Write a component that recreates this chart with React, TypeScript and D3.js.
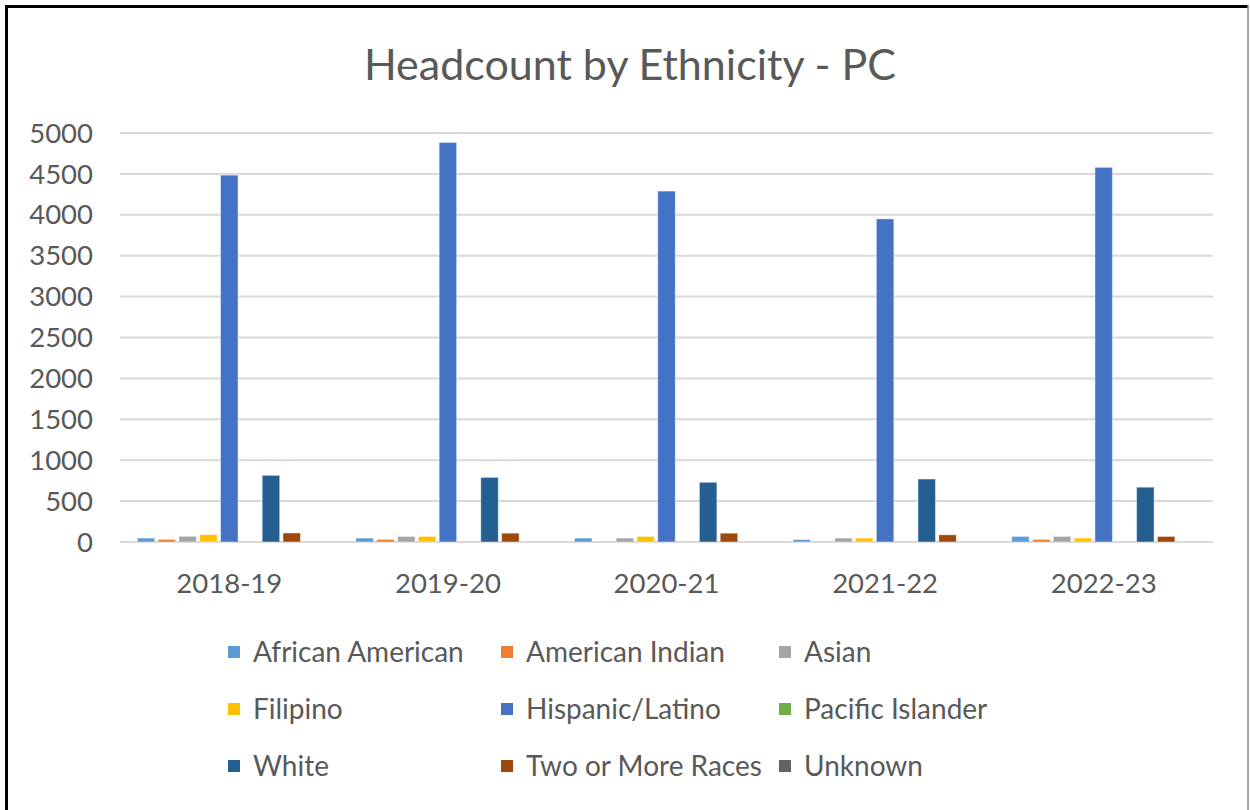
import React from "react";
import * as d3 from "d3";

const title = "Headcount by Ethnicity - PC";
const years = ["2018-19", "2019-20", "2020-21", "2021-22", "2022-23"];
const seriesNames = [
  "African American",
  "American Indian",
  "Asian",
  "Filipino",
  "Hispanic/Latino",
  "Pacific Islander",
  "White",
  "Two or More Races",
  "Unknown",
];
const seriesColors = [
  "#5B9BD5",
  "#ED7D31",
  "#A5A5A5",
  "#FFC000",
  "#4472C4",
  "#70AD47",
  "#255E91",
  "#9E480E",
  "#636363",
];
const africanAmerican = [48, 48, 48, 30, 68];
const americanIndian = [32, 32, 0, 0, 32];
const asian = [70, 68, 48, 48, 68];
const filipino = [90, 68, 68, 48, 48];
const hispanicLatino = [4485, 4885, 4290, 3950, 4580];
const pacificIslander = [0, 0, 0, 0, 0];
const white = [815, 790, 730, 770, 670];
const twoOrMore = [110, 108, 108, 88, 68];
const unknown = [0, 0, 0, 0, 0];
const seriesValues = [
  africanAmerican,
  americanIndian,
  asian,
  filipino,
  hispanicLatino,
  pacificIslander,
  white,
  twoOrMore,
  unknown,
];
const yTicks = [0, 500, 1000, 1500, 2000, 2500, 3000, 3500, 4000, 4500, 5000];

const FONT = "Lato, 'Open Sans', sans-serif";
const TEXT = "#595959";

export default function App() {
  const W = 1250;
  const H = 810;
  const left = 120;
  const right = 1213;
  const y = d3.scaleLinear().domain([0, 5000]).range([542, 133]);
  const x0 = d3.scaleBand<string>().domain(years).range([left, right]).paddingInner(0).paddingOuter(0);
  const gw = x0.bandwidth();
  const slot = gw / 10.5;
  const x1 = d3
    .scaleBand<string>()
    .domain(seriesNames)
    .range([slot * 0.75, gw - slot * 0.75])
    .paddingInner(0);
  const barW = slot * 0.84;

  const legendCols = [228, 501, 779];
  const legendRows = [652, 709, 766];

  return (
    <svg
      width={W}
      height={H}
      style={{ position: "absolute", left: 0, top: 0, background: "#fff" }}
      fontFamily={FONT}
    >
      <rect x={0} y={0} width={W} height={H} fill="#fff" />
      {/* border */}
      <line x1={6.5} y1={5} x2={6.5} y2={H} stroke="#000" strokeWidth={3} />
      <line x1={5} y1={6.5} x2={1248} y2={6.5} stroke="#000" strokeWidth={3} />
      <line x1={1248} y1={5} x2={1248} y2={H} stroke="#888" strokeWidth={1.5} />

      <text x={630} y={80} textAnchor="middle" fontSize={43} fill={TEXT}>
        {title}
      </text>

      {yTicks.map((t) => (
        <g key={t}>
          <line x1={left} x2={right} y1={y(t)} y2={y(t)} stroke="#d9d9d9" strokeWidth={2} />
          <text x={93} y={y(t)} dy="0.35em" textAnchor="end" fontSize={27.5} fill={TEXT}>
            {t}
          </text>
        </g>
      ))}

      {years.map((yr, gi) => (
        <g key={yr} transform={`translate(${x0(yr)},0)`}>
          {seriesNames.map((s, si) => {
            const v = seriesValues[si][gi];
            if (!v) return null;
            const cx = (x1(s) as number) + x1.bandwidth() / 2;
            return (
              <rect
                key={s}
                x={cx - barW / 2}
                y={y(v)}
                width={barW}
                height={y(0) - y(v)}
                fill={seriesColors[si]}
                stroke="rgba(255,255,255,0.45)"
                strokeWidth={1}
              />
            );
          })}
          <text x={gw / 2} y={583} dy="0.35em" textAnchor="middle" fontSize={27.5} fill={TEXT}>
            {yr}
          </text>
        </g>
      ))}

      {seriesNames.map((s, i) => {
        const cx = legendCols[i % 3];
        const cy = legendRows[Math.floor(i / 3)];
        return (
          <g key={s}>
            <rect x={cx} y={cy - 6} width={12} height={12} fill={seriesColors[i]} />
            <text x={cx + 25} y={cy} dy="0.35em" fontSize={28} fill={TEXT}>
              {s}
            </text>
          </g>
        );
      })}
    </svg>
  );
}
